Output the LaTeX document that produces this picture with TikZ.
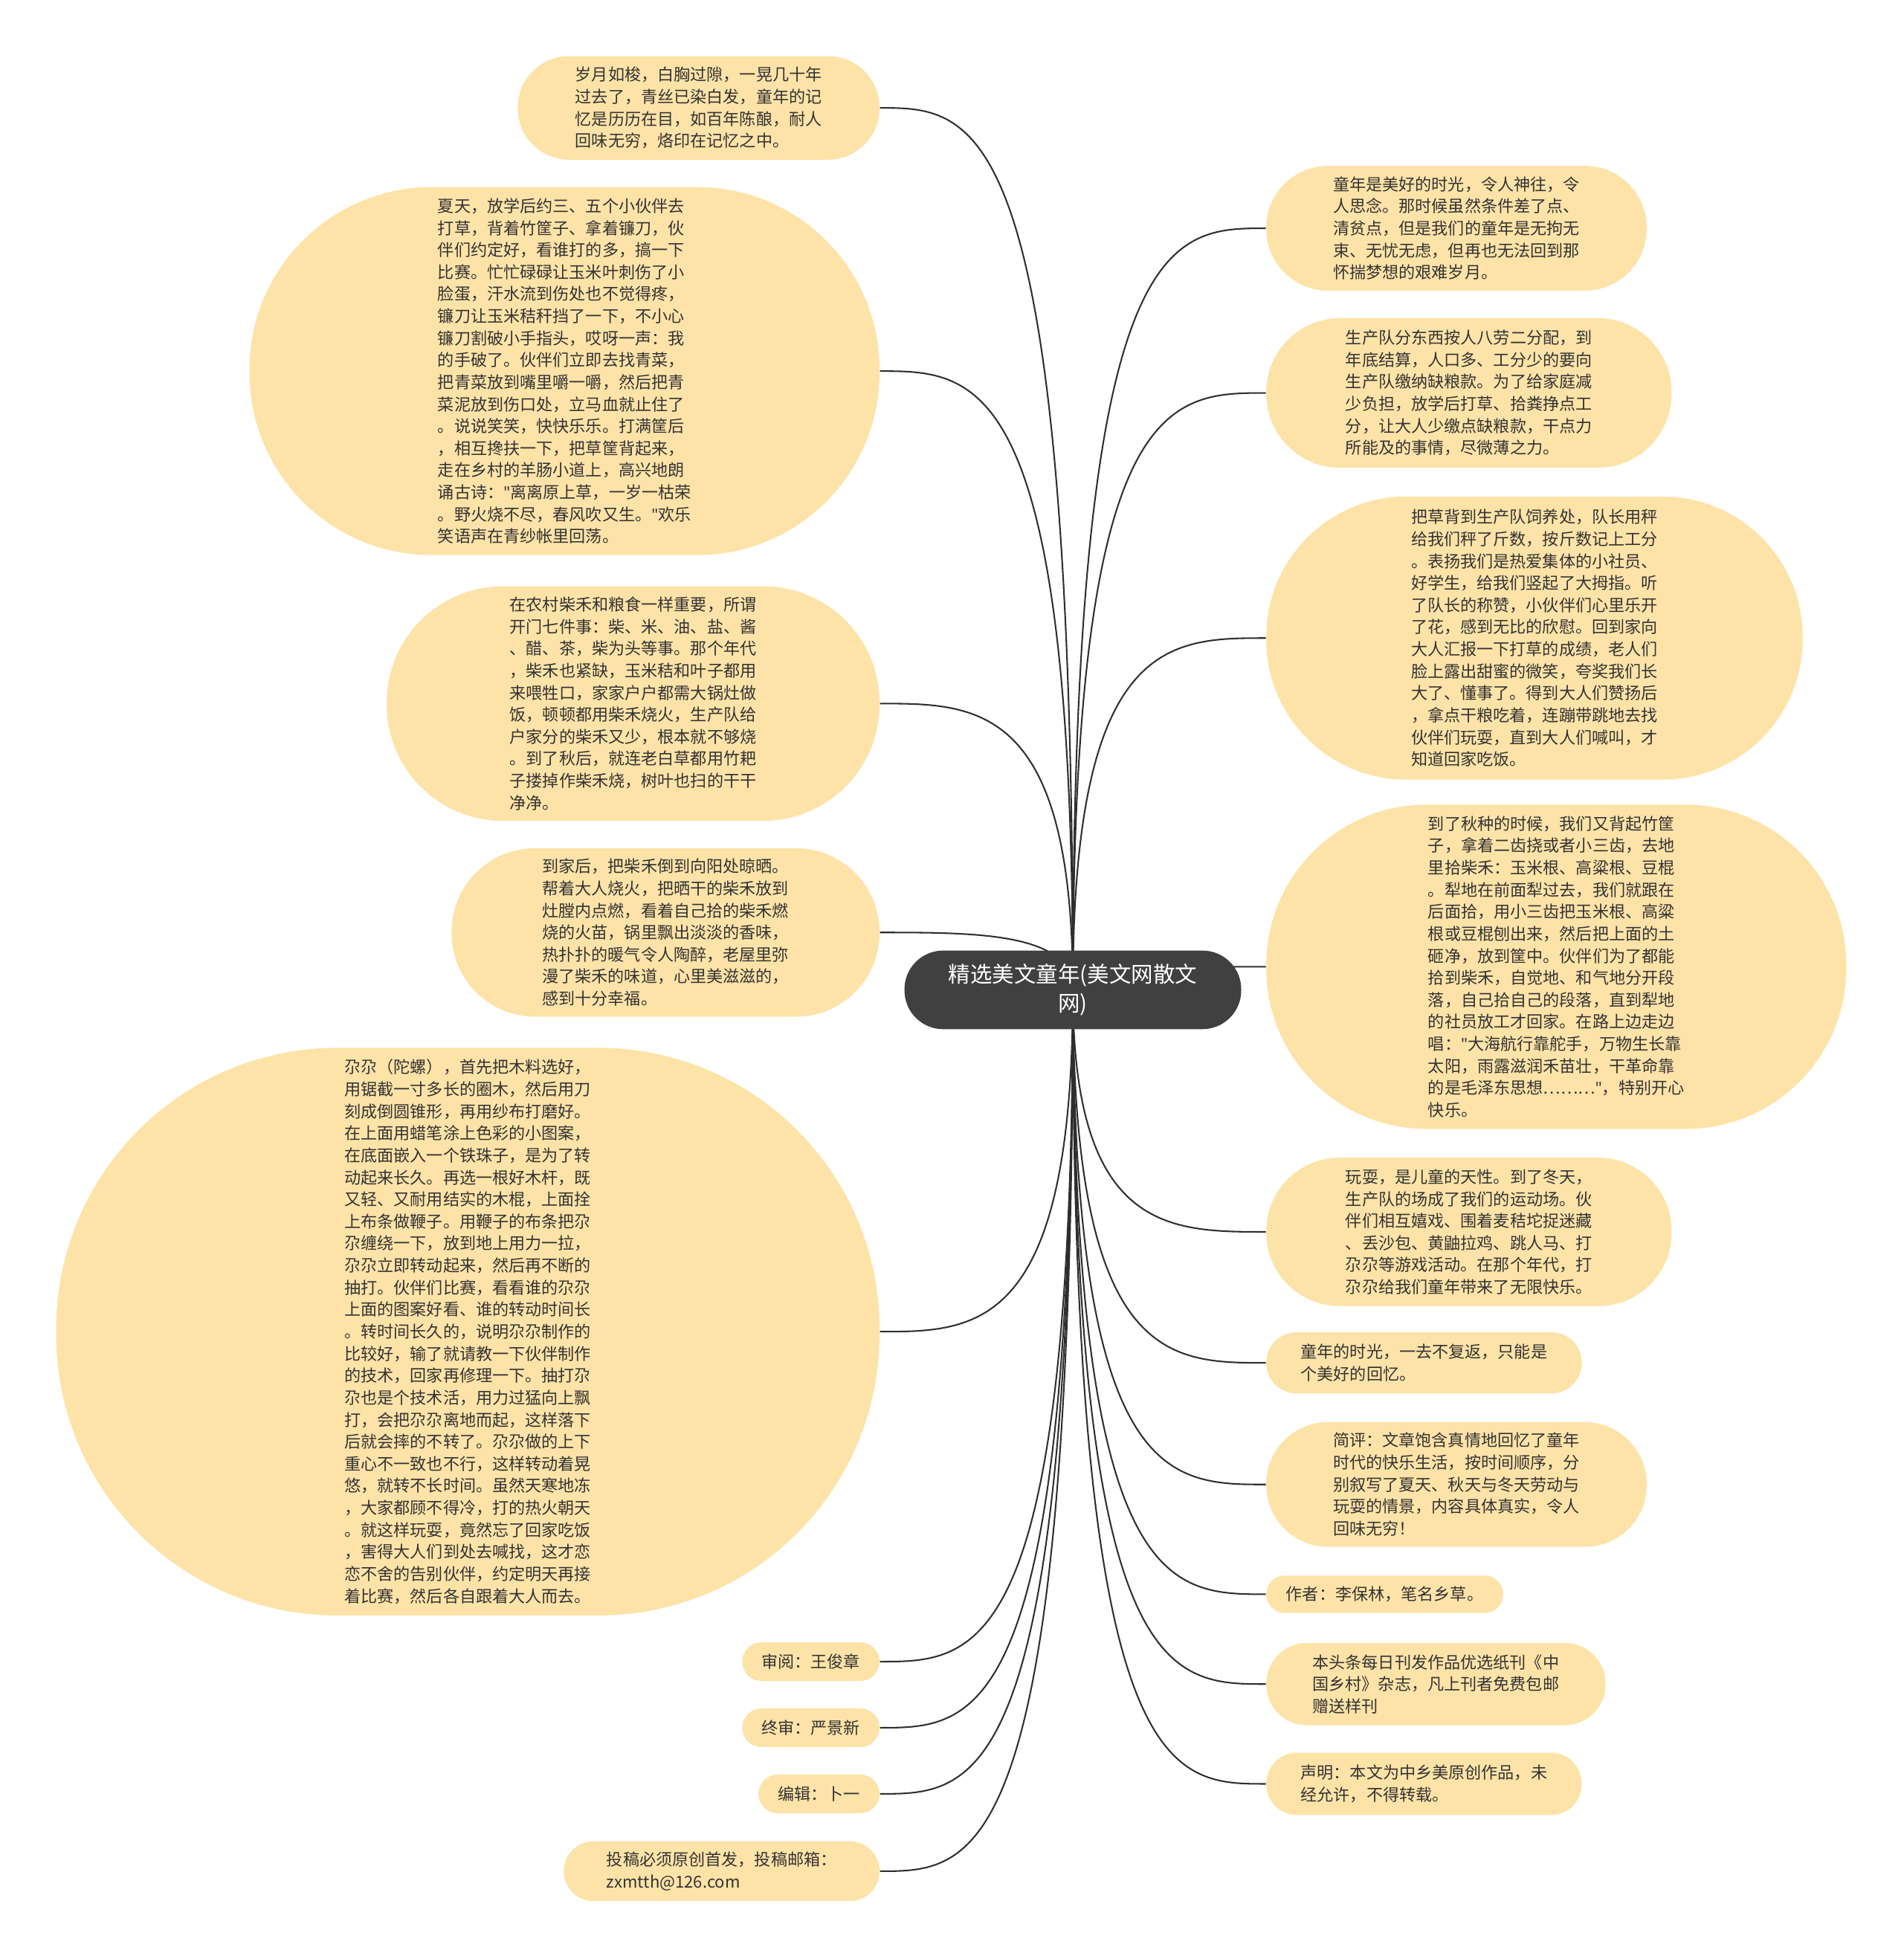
\documentclass[tikz,border=0pt]{standalone}
\usepackage{fontspec}
\setmainfont{Noto Sans CJK SC}
\newfontfamily\quotefont{Noto Sans}
\usetikzlibrary{calc,backgrounds}
\definecolor{leaffill}{HTML}{FDE3A8}
\definecolor{rootfill}{HTML}{404040}
\definecolor{inktext}{HTML}{333333}
\definecolor{linkgray}{HTML}{2E2E2E}
\newcommand{\leaffont}{\fontsize{7.5}{10.05}\selectfont}
\newcommand{\rootfont}{\fontsize{10}{13}\selectfont}
\newcommand{\dq}{{\quotefont"}}
\tikzset{
  leaf/.style 2 args={fill=leaffill, text=inktext, align=left, inner sep=0pt,
    minimum width={#1*0.02cm}, minimum height={#2*0.02cm},
    rounded corners={#2*0.0099cm}, font=\leaffont},
  link/.style={draw=linkgray, line width=0.7pt},
}
\begin{document}
\begin{tikzpicture}[x=0.02cm, y=-0.02cm]
    \useasboundingbox (0,0) rectangle (1526,1568);
    % Raiz
    \node[fill=rootfill, text=white, font=\rootfont, align=center, inner sep=0pt,
      minimum width=5.4cm, minimum height=1.26cm, rounded corners=0.62cm] (root) at (860,793.5)
      {精选美文童年(美文网散文\\网)};
    % Ramas izquierda
    \node[leaf={290}{83}] (l1) at (560,86.5) {岁月如梭，白胸过隙，一晃几十年\\过去了，青丝已染白发，童年的记\\忆是历历在目，如百年陈酿，耐人\\回味无穷，烙印在记忆之中。};
    \node[leaf={505}{295}] (l2) at (452.5,297.5) {夏天，放学后约三、五个小伙伴去\\打草，背着竹筐子、拿着镰刀，伙\\伴们约定好，看谁打的多，搞一下\\比赛。忙忙碌碌让玉米叶刺伤了小\\脸蛋，汗水流到伤处也不觉得疼，\\镰刀让玉米秸秆挡了一下，不小心\\镰刀割破小手指头，哎呀一声：我\\的手破了。伙伴们立即去找青菜，\\把青菜放到嘴里嚼一嚼，然后把青\\菜泥放到伤口处，立马血就止住了\\。说说笑笑，快快乐乐。打满筐后\\，相互搀扶一下，把草筐背起来，\\走在乡村的羊肠小道上，高兴地朗\\诵古诗：\dq 离离原上草，一岁一枯荣\\。野火烧不尽，春风吹又生。\dq 欢乐\\笑语声在青纱帐里回荡。};
    \node[leaf={395}{188}] (l3) at (507.5,564) {在农村柴禾和粮食一样重要，所谓\\开门七件事：柴、米、油、盐、酱\\、醋、茶，柴为头等事。那个年代\\，柴禾也紧缺，玉米秸和叶子都用\\来喂牲口，家家户户都需大锅灶做\\饭，顿顿都用柴禾烧火，生产队给\\户家分的柴禾又少，根本就不够烧\\。到了秋后，就连老白草都用竹耙\\子搂掉作柴禾烧，树叶也扫的干干\\净净。};
    \node[leaf={343}{135}] (l4) at (533.5,747.5) {到家后，把柴禾倒到向阳处晾晒。\\帮着大人烧火，把晒干的柴禾放到\\灶膛内点燃，看着自己拾的柴禾燃\\烧的火苗，锅里飘出淡淡的香味，\\热扑扑的暖气令人陶醉，老屋里弥\\漫了柴禾的味道，心里美滋滋的，\\感到十分幸福。};
    \node[leaf={660}{455}] (l5) at (375,1067.5) {尕尕（陀螺），首先把木料选好，\\用锯截一寸多长的圈木，然后用刀\\刻成倒圆锥形，再用纱布打磨好。\\在上面用蜡笔涂上色彩的小图案，\\在底面嵌入一个铁珠子，是为了转\\动起来长久。再选一根好木杆，既\\又轻、又耐用结实的木棍，上面拴\\上布条做鞭子。用鞭子的布条把尕\\尕缠绕一下，放到地上用力一拉，\\尕尕立即转动起来，然后再不断的\\抽打。伙伴们比赛，看看谁的尕尕\\上面的图案好看、谁的转动时间长\\。转时间长久的，说明尕尕制作的\\比较好，输了就请教一下伙伴制作\\的技术，回家再修理一下。抽打尕\\尕也是个技术活，用力过猛向上飘\\打，会把尕尕离地而起，这样落下\\后就会摔的不转了。尕尕做的上下\\重心不一致也不行，这样转动着晃\\悠，就转不长时间。虽然天寒地冻\\，大家都顾不得冷，打的热火朝天\\。就这样玩耍，竟然忘了回家吃饭\\，害得大人们到处去喊找，这才恋\\恋不舍的告别伙伴，约定明天再接\\着比赛，然后各自跟着大人而去。};
    \node[leaf={110}{31}] (l6) at (650,1332) {审阅：王俊章};
    \node[leaf={110}{31}] (l7) at (650,1385) {终审：严景新};
    \node[leaf={97}{31}] (l8) at (656.5,1438) {编辑：卜一};
    \node[leaf={253}{48}] (l9) at (578.5,1500) {投稿必须原创首发，投稿邮箱：\\zxmtth@126.com};
    % Ramas derecha
    \node[leaf={305}{100}] (r1) at (1167.5,183) {童年是美好的时光，令人神往，令\\人思念。那时候虽然条件差了点、\\清贫点，但是我们的童年是无拘无\\束、无忧无虑，但再也无法回到那\\怀揣梦想的艰难岁月。};
    \node[leaf={325}{120}] (r2) at (1177.5,315) {生产队分东西按人八劳二分配，到\\年底结算，人口多、工分少的要向\\生产队缴纳缺粮款。为了给家庭减\\少负担，放学后打草、拾粪挣点工\\分，让大人少缴点缺粮款，干点力\\所能及的事情，尽微薄之力。};
    \node[leaf={430}{227}] (r3) at (1230,511.5) {把草背到生产队饲养处，队长用秤\\给我们秤了斤数，按斤数记上工分\\。表扬我们是热爱集体的小社员、\\好学生，给我们竖起了大拇指。听\\了队长的称赞，小伙伴们心里乐开\\了花，感到无比的欣慰。回到家向\\大人汇报一下打草的成绩，老人们\\脸上露出甜蜜的微笑，夸奖我们长\\大了、懂事了。得到大人们赞扬后\\，拿点干粮吃着，连蹦带跳地去找\\伙伴们玩耍，直到大人们喊叫，才\\知道回家吃饭。};
    \node[leaf={465}{260}] (r4) at (1247.5,775) {到了秋种的时候，我们又背起竹筐\\子，拿着二齿挠或者小三齿，去地\\里拾柴禾：玉米根、高粱根、豆棍\\。犁地在前面犁过去，我们就跟在\\后面拾，用小三齿把玉米根、高粱\\根或豆棍刨出来，然后把上面的土\\砸净，放到筐中。伙伴们为了都能\\拾到柴禾，自觉地、和气地分开段\\落，自己拾自己的段落，直到犁地\\的社员放工才回家。在路上边走边\\唱：\dq 大海航行靠舵手，万物生长靠\\太阳，雨露滋润禾苗壮，干革命靠\\的是毛泽东思想………\dq ，特别开心\\快乐。};
    \node[leaf={325}{119}] (r5) at (1177.5,987.5) {玩耍，是儿童的天性。到了冬天，\\生产队的场成了我们的运动场。伙\\伴们相互嬉戏、围着麦秸坨捉迷藏\\、丢沙包、黄鼬拉鸡、跳人马、打\\尕尕等游戏活动。在那个年代，打\\尕尕给我们童年带来了无限快乐。};
    \node[leaf={253}{49}] (r6) at (1141.5,1092.5) {童年的时光，一去不复返，只能是\\个美好的回忆。};
    \node[leaf={305}{100}] (r7) at (1167.5,1190) {简评：文章饱含真情地回忆了童年\\时代的快乐生活，按时间顺序，分\\别叙写了夏天、秋天与冬天劳动与\\玩耍的情景，内容具体真实，令人\\回味无穷！};
    \node[leaf={190}{30}] (r8) at (1110,1278) {作者：李保林，笔名乡草。};
    \node[leaf={272}{66}] (r9) at (1151,1350) {本头条每日刊发作品优选纸刊《中\\国乡村》杂志，凡上刊者免费包邮\\赠送样刊};
    \node[leaf={253}{50}] (r10) at (1141.5,1430) {声明：本文为中乡美原创作品，未\\经允许，不得转载。};
    % Conectores
    \begin{pgfonlayer}{background}
    \foreach \n in {l1,l2,l3,l4,l5,l6,l7,l8,l9}
        \draw[link] (root.center) .. controls (root.center |- \n.east) and ($(root.center |- \n.east)!0.5!(\n.east)$) .. (\n.east);
    \foreach \n in {r1,r2,r3,r4,r5,r6,r7,r8,r9,r10}
        \draw[link] (root.center) .. controls (root.center |- \n.west) and ($(root.center |- \n.west)!0.5!(\n.west)$) .. (\n.west);
    \end{pgfonlayer}
\end{tikzpicture}
\end{document}
